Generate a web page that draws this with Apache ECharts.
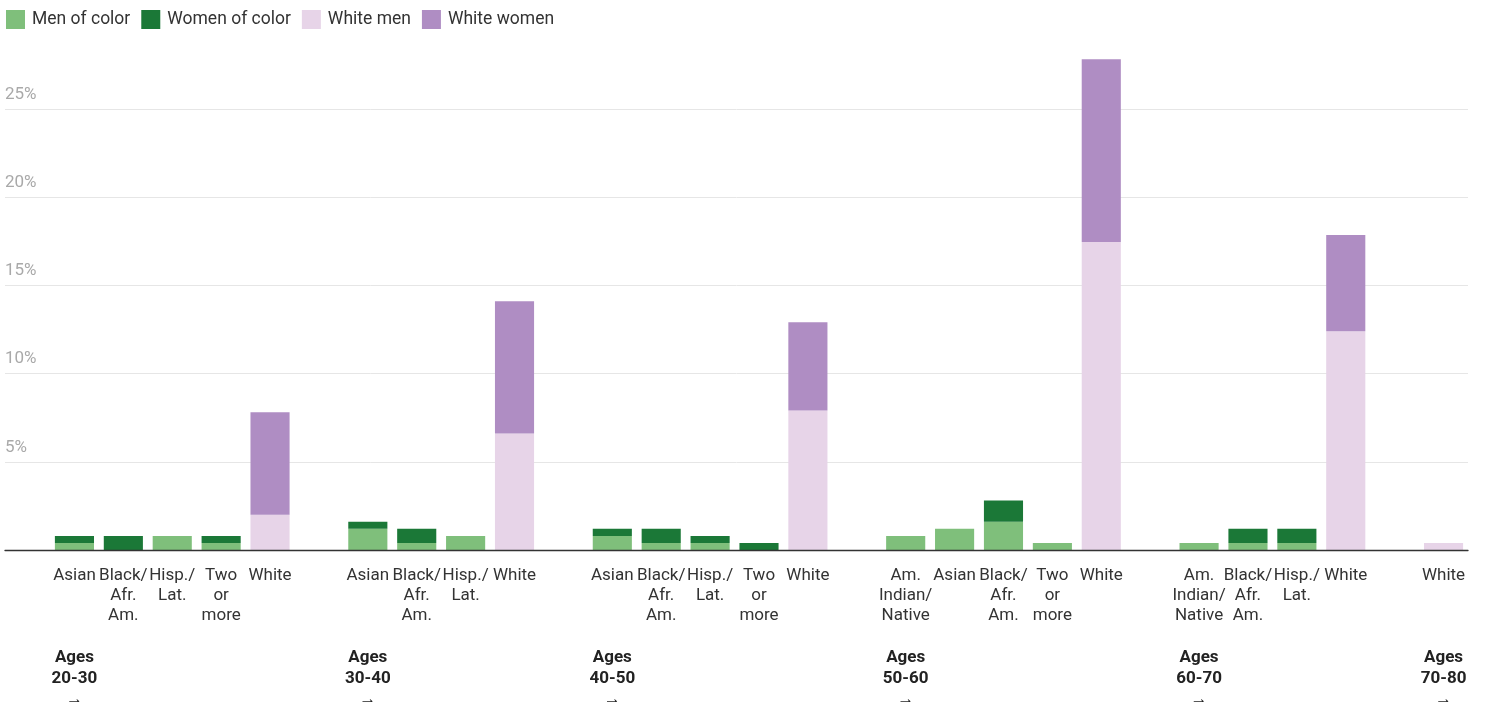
<!DOCTYPE html>
<html>
<head>
<meta charset="utf-8">
<script src="https://cdn.jsdelivr.net/npm/echarts@6/dist/echarts.min.js"></script>
<style>
html,body{margin:0;padding:0;background:#fff;}
#c{width:1486px;height:702px;}
</style>
</head>
<body>
<div id="c"></div>
<script>
// 29 category slots (blank slots separate age groups)
var categories = [
  'Asian','Black/\nAfr.\nAm.','Hisp./\nLat.','Two\nor\nmore','White','',
  'Asian','Black/\nAfr.\nAm.','Hisp./\nLat.','White','',
  'Asian','Black/\nAfr.\nAm.','Hisp./\nLat.','Two\nor\nmore','White','',
  'Am.\nIndian/\nNative','Asian','Black/\nAfr.\nAm.','Two\nor\nmore','White','',
  'Am.\nIndian/\nNative','Black/\nAfr.\nAm.','Hisp./\nLat.','White','',
  'White'
];
var ageLabels = [
  'Ages\n20-30\n→','','','','','',
  'Ages\n30-40\n→','','','','',
  'Ages\n40-50\n→','','','','','',
  'Ages\n50-60\n→','','','','','',
  'Ages\n60-70\n→','','','','',
  'Ages\n70-80\n→'
];
var menOfColor = [0.4,0,0.8,0.4,null,null, 1.2,0.4,0.8,null,null, 0.8,0.4,0.4,0,null,null, 0.8,1.2,1.6,0.4,null,null, 0.4,0.4,0.4,null,null, null];
var womenOfColor = [0.4,0.8,0,0.4,null,null, 0.4,0.8,0,null,null, 0.4,0.8,0.4,0.4,null,null, 0,0,1.2,0,null,null, 0,0.8,0.8,null,null, null];
var whiteMen = [null,null,null,null,2.0,null, null,null,null,6.6,null, null,null,null,null,7.9,null, null,null,null,null,17.45,null, null,null,null,12.4,null, 0.4];
var whiteWomen = [null,null,null,null,5.8,null, null,null,null,7.5,null, null,null,null,null,5.0,null, null,null,null,null,10.35,null, null,null,null,5.45,null, 0];
var yTicks = {min:0, max:30, interval:5};

var chart = echarts.init(document.getElementById('c'), null, {renderer:'canvas'});
var font = 'Roboto, "Noto Sans", sans-serif';
function bar(name, data, color){
  return {name:name, type:'bar', stack:'a', data:data, xAxisIndex:0, yAxisIndex:0,
    barCategoryGap:'20%', itemStyle:{color:color}, emphasis:{disabled:true}};
}
chart.setOption({
  animation:false,
  textStyle:{fontFamily:font},
  legend:{
    left:6, top:10, padding:0, itemWidth:19, itemHeight:19, itemGap:11, icon:'rect',
    textStyle:{fontSize:17.5, color:'#333', fontFamily:font, padding:[0,0,0,2]},
    data:['Men of color','Women of color','White men','White women']
  },
  grid:[
    {left:50, right:18, top:20.5, bottom:152, outerBoundsMode:'none', containLabel:false},
    {left:5, right:18, top:20.5, bottom:152, outerBoundsMode:'none', containLabel:false}
  ],
  xAxis:[
    {type:'category', gridIndex:0, data:categories, position:'bottom', offset:0,
     axisLine:{show:false}, axisTick:{show:false}, splitLine:{show:false},
     axisLabel:{interval:0, color:'#333', fontSize:17, lineHeight:20, margin:16, fontFamily:font}},
    {type:'category', gridIndex:0, data:ageLabels, position:'bottom', offset:0,
     axisLine:{show:false}, axisTick:{show:false}, splitLine:{show:false},
     axisLabel:{interval:0, color:'#222', fontSize:17, fontWeight:'bold', lineHeight:21, margin:97.5, fontFamily:font}},
    {type:'value', gridIndex:1, min:0, max:1, position:'bottom', z:5,
     axisLine:{show:true, lineStyle:{color:'#333', width:1.3}}, axisTick:{show:false},
     axisLabel:{show:false}, splitLine:{show:false}}
  ],
  yAxis:[
    {type:'value', gridIndex:0, min:yTicks.min, max:yTicks.max, interval:yTicks.interval, show:false},
    {type:'value', gridIndex:1, min:yTicks.min, max:yTicks.max, interval:yTicks.interval,
     axisLine:{show:false}, axisTick:{show:false},
     splitLine:{show:true, showMaxLine:false, showMinLine:false, lineStyle:{color:'#e6e6e6', width:1}},
     axisLabel:{inside:true, margin:0, verticalAlign:'bottom', padding:[0,0,6,0],
       showMaxLabel:false, showMinLabel:false, color:'#a9a9a9', fontSize:17, fontFamily:font,
       formatter:'{value}%'}}
  ],
  series:[
    bar('Men of color', menOfColor, '#7fbf7b'),
    bar('Women of color', womenOfColor, '#1b7837'),
    bar('White men', whiteMen, '#e7d4e8'),
    bar('White women', whiteWomen, '#af8dc3')
  ]
});
</script>
</body>
</html>
